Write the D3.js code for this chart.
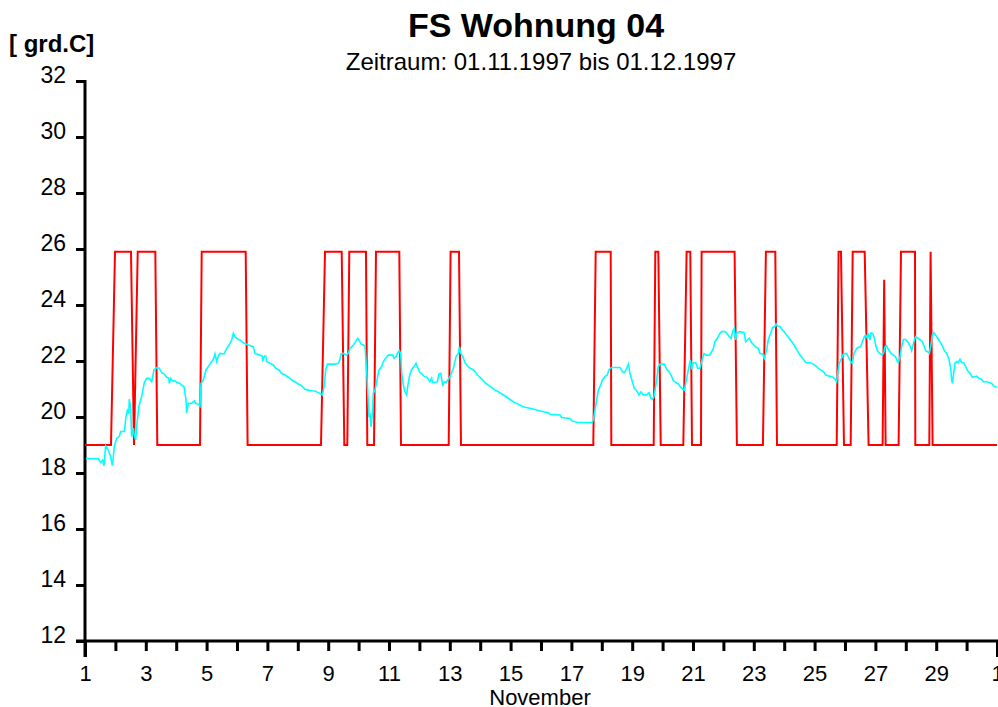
<!DOCTYPE html>
<html>
<head>
<meta charset="utf-8">
<style>
  body { margin: 0; background: #fff; }
  svg text { font-family: "Liberation Sans", Arial, sans-serif; fill: #000; }
</style>
</head>
<body>
<svg width="998" height="707"></svg>
<script src="https://d3js.org/d3.v7.min.js"></script>
<script>

// day of month (1 = 01.11., 31 = 01.12.) and value in grd.C
var redDays = [1.0, 1.855, 1.987, 2.513, 2.612, 2.734, 3.313, 3.378, 4.783, 4.839, 6.286, 6.349,
  8.763, 8.895, 9.444, 9.530, 9.628, 9.694, 10.243, 10.286, 10.507, 10.572, 11.339, 11.395,
  12.964, 13.026, 13.303, 13.368, 17.720, 17.799, 18.293, 18.313, 19.707, 19.760, 19.859, 19.938,
  20.681, 20.790, 20.911, 20.967, 21.263, 21.283, 22.368, 22.444, 23.300, 23.398, 23.707, 23.763,
  25.727, 25.789, 25.868, 25.967, 26.187, 26.253, 26.648, 26.776, 27.237, 27.289, 27.336,
  27.763, 27.842, 28.303, 28.313, 28.773, 28.816, 28.882, 31.0];
var redVals = [19.0, 19.0, 25.9, 25.9, 19.0, 25.9, 25.9, 19.0, 19.0, 25.9, 25.9, 19.0,
  19.0, 25.9, 25.9, 19.0, 19.0, 25.9, 25.9, 19.0, 19.0, 25.9, 25.9, 19.0,
  19.0, 25.9, 25.9, 19.0, 19.0, 25.9, 25.9, 19.0, 19.0, 25.9, 25.9, 19.0,
  19.0, 25.9, 25.9, 19.0, 19.0, 25.9, 25.9, 19.0, 19.0, 25.9, 25.9, 19.0,
  19.0, 25.9, 25.9, 19.0, 19.0, 25.9, 25.9, 19.0, 19.0, 24.9, 19.0,
  19.0, 25.9, 25.9, 19.0, 19.0, 25.9, 19.0, 19.0];

var cyanDays = [1.033, 1.439, 1.515, 1.581, 1.625, 1.680, 1.768, 1.844, 1.899, 1.965, 2.042, 2.129,
  2.173, 2.294, 2.349, 2.393, 2.436, 2.458, 2.502, 2.535, 2.590, 2.623, 2.667, 2.721, 2.776, 2.864,
  2.952, 3.028, 3.116, 3.193, 3.270, 3.357, 3.445, 3.522, 3.599, 3.686, 3.752, 3.774, 3.818, 3.884,
  3.961, 4.037, 4.125, 4.180, 4.257, 4.322, 4.344, 4.399, 4.509, 4.596, 4.640, 4.728, 4.783, 4.816,
  4.893, 4.980, 5.112, 5.222, 5.276, 5.331, 5.386, 5.441, 5.572, 5.660, 5.770, 5.825, 5.879, 5.945,
  6.044, 6.099, 6.208, 6.373, 6.537, 6.592, 6.756, 6.833, 6.844, 6.899, 6.943, 6.976, 7.085, 7.195,
  7.272, 7.381, 7.469, 7.579, 7.688, 7.798, 7.908, 8.017, 8.127, 8.237, 8.346, 8.456, 8.566, 8.675,
  8.763, 8.807, 8.873, 8.917, 8.971, 9.224, 9.333, 9.388, 9.421, 9.498, 9.607, 9.662, 9.717, 9.827,
  9.903, 9.969, 10.013, 10.079, 10.156, 10.210, 10.265, 10.298, 10.342, 10.375, 10.408, 10.452,
  10.485, 10.539, 10.594, 10.671, 10.759, 10.813, 10.890, 10.978, 11.066, 11.121, 11.165, 11.230,
  11.274, 11.340, 11.384, 11.417, 11.472, 11.526, 11.581, 11.614, 11.669, 11.746, 11.822, 11.888,
  11.932, 11.998, 12.075, 12.151, 12.239, 12.294, 12.349, 12.404, 12.436, 12.513, 12.590, 12.645,
  12.700, 12.733, 12.765, 12.809, 12.875, 12.952, 13.007, 13.116, 13.204, 13.281, 13.314, 13.358,
  13.423, 13.500, 13.577, 13.665, 13.752, 13.829, 13.906, 13.994, 14.081, 14.158, 14.268, 14.377,
  14.487, 14.597, 14.706, 14.816, 14.926, 15.035, 15.145, 15.255, 15.364, 15.474, 15.638, 15.803,
  15.912, 16.077, 16.242, 16.296, 16.625, 16.680, 16.954, 17.009, 17.174, 17.667, 17.722, 17.777,
  17.832, 17.886, 17.963, 18.018, 18.106, 18.182, 18.237, 18.325, 18.599, 18.676, 18.742, 18.818,
  18.873, 18.928, 19.005, 19.071, 19.147, 19.224, 19.290, 19.367, 19.476, 19.553, 19.619, 19.663,
  19.718, 19.805, 19.860, 19.915, 20.058, 20.134, 20.211, 20.277, 20.353, 20.430, 20.518, 20.628,
  20.715, 20.759, 20.825, 20.869, 20.913, 20.957, 21.011, 21.088, 21.154, 21.230, 21.285, 21.362,
  21.449, 21.537, 21.614, 21.669, 21.723, 21.800, 21.888, 21.943, 22.052, 22.129, 22.195, 22.250,
  22.305, 22.359, 22.403, 22.436, 22.524, 22.677, 22.732, 22.787, 22.853, 22.930, 23.006, 23.072,
  23.149, 23.204, 23.292, 23.346, 23.423, 23.478, 23.555, 23.620, 23.697, 23.730, 23.774, 23.862,
  23.949, 24.026, 24.103, 24.191, 24.278, 24.355, 24.432, 24.520, 24.629, 24.717, 24.849, 24.958,
  25.046, 25.123, 25.199, 25.287, 25.375, 25.484, 25.594, 25.671, 25.726, 25.759, 25.813, 25.890,
  25.945, 26.054, 26.109, 26.186, 26.241, 26.296, 26.383, 26.493, 26.526, 26.570, 26.636, 26.680,
  26.735, 26.768, 26.822, 26.855, 26.910, 26.965, 27.009, 27.064, 27.118, 27.173, 27.239, 27.283,
  27.316, 27.371, 27.425, 27.513, 27.590, 27.667, 27.721, 27.754, 27.809, 27.864, 27.919, 27.996,
  28.083, 28.149, 28.193, 28.237, 28.281, 28.325, 28.390, 28.467, 28.544, 28.610, 28.654, 28.719,
  28.774, 28.818, 28.873, 28.917, 28.982, 29.048, 29.125, 29.202, 29.268, 29.344, 29.421, 29.476,
  29.509, 29.531, 29.575, 29.618, 29.673, 29.728, 29.783, 29.838, 29.904, 29.969, 30.035, 30.112,
  30.189, 30.254, 30.331, 30.408, 30.496, 30.550, 30.660, 30.737, 30.825, 30.912, 30.989];
var cyanVals = [18.52, 18.51, 18.37, 18.46, 18.26, 18.98, 18.82, 18.58, 18.26, 18.94, 19.24, 19.30,
  19.48, 19.48, 20.01, 20.23, 20.11, 20.64, 20.31, 19.30, 19.60, 19.32, 19.18, 19.89, 20.39, 20.73,
  21.23, 21.38, 21.38, 21.26, 21.68, 21.76, 21.74, 21.58, 21.54, 21.42, 21.40, 21.20, 21.38, 21.29,
  21.29, 21.23, 21.20, 21.14, 21.08, 20.61, 20.15, 20.49, 20.49, 20.58, 20.49, 20.46, 20.39, 21.20,
  21.32, 21.68, 21.89, 22.06, 22.25, 21.98, 22.18, 22.27, 22.25, 22.45, 22.63, 22.75, 22.99, 22.85,
  22.77, 22.75, 22.65, 22.57, 22.51, 22.27, 22.21, 22.18, 21.98, 22.18, 22.18, 21.98, 21.92, 21.86,
  21.74, 21.68, 21.56, 21.50, 21.42, 21.32, 21.26, 21.18, 21.11, 20.99, 20.96, 20.94, 20.93, 20.87,
  20.82, 20.79, 21.14, 21.68, 21.89, 21.89, 21.92, 22.06, 22.25, 22.27, 22.21, 22.27, 22.45, 22.57,
  22.69, 22.81, 22.75, 22.61, 22.57, 22.54, 21.68, 20.96, 19.99, 20.07, 19.65, 20.13,
  20.85, 20.96, 21.26, 21.68, 21.80, 21.98, 22.10, 22.21, 22.21, 22.21, 22.10, 22.15,
  22.27, 22.37, 22.27, 21.56, 21.14, 20.90, 20.79, 21.08, 21.44, 21.70, 21.80, 21.92,
  21.80, 21.62, 21.54, 21.46, 21.42, 21.35, 21.26, 21.38, 21.23, 21.23, 21.26, 21.54,
  21.56, 21.38, 21.11, 21.26, 21.23, 21.35, 21.44, 21.74, 22.15, 22.27, 22.51, 22.27,
  22.18, 21.94, 21.82, 21.74, 21.70, 21.62, 21.50, 21.42, 21.32, 21.23, 21.14, 21.06,
  20.96, 20.90, 20.82, 20.75, 20.67, 20.58, 20.51, 20.46, 20.39, 20.35, 20.31, 20.27,
  20.23, 20.19, 20.15, 20.10, 20.07, 19.98, 19.95, 19.87, 19.81, 19.80, 19.89, 20.25,
  20.61, 20.96, 21.14, 21.32, 21.44, 21.50, 21.70, 21.77, 21.77, 21.62, 21.58, 21.74,
  21.89, 21.56, 21.26, 21.02, 20.94, 20.79, 20.90, 20.79, 20.79, 20.87, 20.67, 20.63,
  20.73, 21.32, 21.80, 21.89, 21.89, 21.70, 21.62, 21.50, 21.30, 21.23, 21.18, 21.02,
  20.96, 21.20, 21.56, 21.80, 22.04, 21.70, 21.94, 21.94, 21.74, 21.74, 21.98, 22.27,
  22.21, 22.21, 22.33, 22.45, 22.69, 22.81, 22.99, 23.05, 23.05, 22.96, 22.87, 22.81,
  23.05, 23.17, 22.75, 22.99, 23.05, 23.02, 22.69, 22.75, 22.81, 22.65, 22.57, 22.49,
  22.45, 22.27, 22.25, 22.10, 22.39, 22.77, 22.99, 23.20, 23.23, 23.32, 23.25, 23.23,
  23.11, 23.01, 22.89, 22.77, 22.65, 22.51, 22.37, 22.21, 22.06, 21.94, 21.94, 21.89,
  21.82, 21.74, 21.68, 21.62, 21.50, 21.46, 21.42, 21.35, 21.26, 21.56, 21.92, 22.10,
  22.25, 22.27, 22.15, 21.98, 21.92, 22.27, 22.45, 22.51, 22.54, 22.69, 22.87, 22.93,
  22.81, 22.99, 22.75, 23.01, 22.99, 22.81, 22.57, 22.37, 22.30, 22.25, 22.24, 22.33,
  22.51, 22.54, 22.42, 22.27, 22.21, 22.15, 21.98, 21.94, 22.13, 22.51, 22.77, 22.77,
  22.65, 22.51, 22.37, 22.57, 22.75, 22.87, 22.81, 22.77, 22.69, 22.51, 22.37, 22.33,
  22.27, 22.51, 22.93, 23.01, 22.93, 22.81, 22.69, 22.54, 22.37, 22.27, 22.06, 21.74,
  21.32, 21.20, 21.56, 21.92, 21.98, 21.94, 22.06, 21.94, 21.94, 21.80, 21.65, 21.56,
  21.42, 21.44, 21.46, 21.38, 21.35, 21.26, 21.26, 21.23, 21.20, 21.08, 21.08];

var yTicks = [12, 14, 16, 18, 20, 22, 24, 26, 28, 30, 32];
var dayTicks = d3.range(1, 32);

var titleText = "FS Wohnung 04",
  subtitleText = "Zeitraum: 01.11.1997 bis 01.12.1997",
  unitText = "[ grd.C]",
  monthText = "November";

var svg = d3.select("svg"),
  margin = {top: 81, right: 1, bottom: 66, left: 85},
  width = +svg.attr("width") - margin.left - margin.right,
  height = +svg.attr("height") - margin.top - margin.bottom,
  g = svg.append("g").attr("transform", "translate(" + margin.left + "," + margin.top + ")");

var x = d3.scaleLinear().domain([1, 31]).range([0, width]),
  y = d3.scaleLinear().domain([12, 32]).range([height, 0]);

var line = d3.line()
  .x(function(d) { return x(d[0]); })
  .y(function(d) { return y(d[1]); });

var red = d3.zip(redDays, redVals),
  cyan = d3.zip(cyanDays, cyanVals);

// y axis
var yAxis = g.append("g")
    .attr("class", "axis axis--y")
    .call(d3.axisLeft(y).tickValues(yTicks).tickSize(9).tickSizeOuter(0).tickPadding(10));
yAxis.select(".domain").remove();
yAxis.selectAll(".tick line").attr("stroke", "#000").attr("stroke-width", 3);
yAxis.selectAll(".tick text")
    .attr("dy", "0")
    .attr("y", 1)
    .style("font-size", "23px");

// x axis
var xAxis = g.append("g")
    .attr("class", "axis axis--x")
    .attr("transform", "translate(0," + height + ")")
    .call(d3.axisBottom(x).tickValues(dayTicks).tickSize(10).tickSizeOuter(0).tickPadding(14)
      .tickFormat(function(d) { return d === 31 ? "1" : (d % 2 ? d : ""); }));
xAxis.select(".domain").remove();
xAxis.selectAll(".tick line")
    .attr("stroke", "#000").attr("stroke-width", 3)
    .attr("y2", function(d) { return d === 1 || d === 31 ? 16 : 10; });
xAxis.selectAll(".tick text").style("font-size", "22px");

// axis lines
g.append("line")
    .attr("x1", -9).attr("x2", width + 2)
    .attr("y1", y(12)).attr("y2", y(12))
    .attr("stroke", "#000").attr("stroke-width", 3);
g.append("line")
    .attr("x1", 0).attr("x2", 0)
    .attr("y1", y(32) - 1).attr("y2", y(12) + 16)
    .attr("stroke", "#000").attr("stroke-width", 3);

// data
g.append("path")
    .datum(red)
    .attr("fill", "none")
    .attr("stroke", "#ff0000")
    .attr("stroke-width", 2)
    .attr("d", line);

g.append("path")
    .datum(cyan)
    .attr("fill", "none")
    .attr("stroke", "#00ffff")
    .attr("stroke-width", 1.6)
    .attr("d", line);

// texts
svg.append("text")
    .attr("x", margin.left + width / 2 - 5).attr("y", 37)
    .attr("text-anchor", "middle")
    .style("font-size", "34px").style("font-weight", "bold")
    .text(titleText);

svg.append("text")
    .attr("x", margin.left + width / 2).attr("y", 70)
    .attr("text-anchor", "middle")
    .style("font-size", "24px")
    .text(subtitleText);

svg.append("text")
    .attr("x", 9).attr("y", 52)
    .style("font-size", "24px").style("font-weight", "bold")
    .text(unitText);

svg.append("text")
    .attr("x", margin.left + width / 2 - 1).attr("y", 705)
    .attr("text-anchor", "middle")
    .style("font-size", "22px")
    .text(monthText);

</script>
</body>
</html>
